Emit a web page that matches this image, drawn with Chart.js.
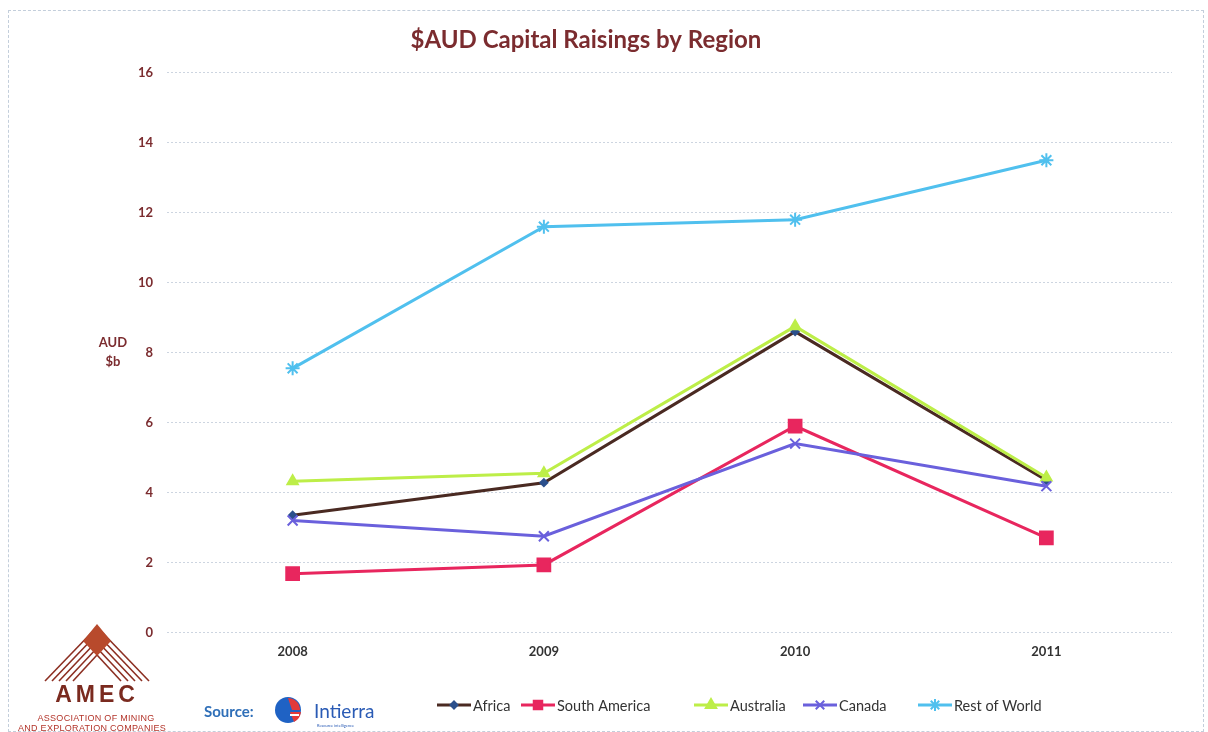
<!DOCTYPE html>
<html lang="en">
<head>
<meta charset="UTF-8">
<title>$AUD Capital Raisings by Region</title>
<script src="https://cdn.jsdelivr.net/npm/chart.js"></script>
<style>
    body {
        margin: 0;
        background: #fff;
        font-family: Lato, "Open Sans", sans-serif;
    }
    .wrap {
        position: relative;
        width: 1208px;
        height: 732px;
        overflow: hidden;
    }
    .frame {
        position: absolute;
        left: 8px;
        top: 10px;
        width: 1196px;
        height: 722px;
        border: 1px dashed #c3cedb;
        box-sizing: border-box;
    }
    #chart {
        position: absolute;
        left: 0;
        top: 0;
    }
    .ylabel {
        position: absolute;
        left: 88px;
        top: 333px;
        width: 50px;
        text-align: center;
        font-weight: bold;
        font-size: 13px;
        line-height: 19px;
        color: #7b2c2f;
    }
    .amec {
        position: absolute;
        left: 0;
        top: 615px;
    }
    .source {
        position: absolute;
        left: 204px;
        top: 702px;
        font-weight: bold;
        font-size: 15px;
        color: #2f6fb8;
    }
    .intierra {
        position: absolute;
        left: 272px;
        top: 694px;
    }
</style>
</head>
<body>
<div class="wrap">
    <div class="frame"></div>
    <canvas id="chart" width="1208" height="732"></canvas>
    <div class="ylabel">AUD<br>$b</div>
    <svg class="amec" width="200" height="117" viewBox="0 0 200 117">
        <g stroke="#8c2f22" stroke-width="1.6" fill="none">
            <line x1="97" y1="12" x2="45" y2="66"/>
            <line x1="97" y1="19" x2="52" y2="66"/>
            <line x1="97" y1="26" x2="59" y2="66"/>
            <line x1="97" y1="33" x2="66" y2="66"/>
            <line x1="97" y1="40" x2="73" y2="66"/>
            <line x1="97" y1="12" x2="149" y2="66"/>
            <line x1="97" y1="19" x2="142" y2="66"/>
            <line x1="97" y1="26" x2="135" y2="66"/>
            <line x1="97" y1="33" x2="128" y2="66"/>
            <line x1="97" y1="40" x2="121" y2="66"/>
        </g>
        <polygon points="97,9 111,26 97,41 83,26" fill="#b84a2c"/>
        <text x="97" y="87" text-anchor="middle" font-family="Liberation Sans, sans-serif" font-weight="bold" font-size="23" fill="#7a2a1f" letter-spacing="4">AMEC</text>
        <text x="96" y="106" text-anchor="middle" font-family="Liberation Sans, sans-serif" font-size="9" fill="#b3342a" letter-spacing="0.3">ASSOCIATION OF MINING</text>
        <text x="92" y="116" text-anchor="middle" font-family="Liberation Sans, sans-serif" font-size="9" fill="#b3342a" letter-spacing="0.3">AND EXPLORATION COMPANIES</text>
    </svg>
    <div class="source">Source:</div>
    <svg class="intierra" width="110" height="36" viewBox="0 0 110 36">
        <circle cx="16" cy="16" r="13" fill="#1f62c4"/>
        <path d="M16 4 A12 12 0 0 1 28 16 L20 16 Z" fill="#e23a3a"/>
        <path d="M18 18 L29 18 A13 13 0 0 1 22 28 Z" fill="#e23a3a"/>
        <rect x="18" y="20" width="9" height="2" fill="#fff"/>
        <text x="42" y="24" font-family="Lato, sans-serif" font-size="19" fill="#2a5bb5">Intierra</text>
        <text x="45" y="33" font-family="Lato, sans-serif" font-size="4" fill="#2a5bb5">Resource intelligence</text>
    </svg>
</div>

<script>
    const years = ['2008', '2009', '2010', '2011'];
    const africa = [3.35, 4.28, 8.6, 4.35];
    const southAmerica = [1.68, 1.93, 5.9, 2.7];
    const australia = [4.32, 4.55, 8.75, 4.43];
    const canada = [3.2, 2.75, 5.4, 4.18];
    const restOfWorld = [7.55, 11.6, 11.8, 13.5];
    const yTickStep = 2;

    // legend item start positions (layout only)
    const legendX = [437, 521, 694, 803, 918];
    const legendY = 705;

    function series(label, data, color, pointColor, style, radius, order) {
        return {
            label: label,
            data: data,
            borderColor: color,
            backgroundColor: pointColor,
            pointBackgroundColor: pointColor,
            pointBorderColor: pointColor,
            pointStyle: style,
            pointRadius: radius,
            pointHoverRadius: radius,
            pointBorderWidth: 2,
            borderWidth: 3,
            tension: 0,
            order: order
        };
    }

    const bottomLegend = {
        id: 'bottomLegend',
        afterDraw(chart) {
            const ctx = chart.ctx;
            ctx.save();
            ctx.font = '14.5px Lato';
            ctx.textBaseline = 'middle';
            chart.data.datasets.forEach((ds, i) => {
                const x = legendX[i];
                ctx.strokeStyle = ds.borderColor;
                ctx.lineWidth = 3;
                ctx.beginPath();
                ctx.moveTo(x, legendY);
                ctx.lineTo(x + 34, legendY);
                ctx.stroke();
                ctx.fillStyle = ds.pointBackgroundColor;
                ctx.strokeStyle = ds.pointBorderColor;
                ctx.lineWidth = 2;
                Chart.helpers.drawPoint(ctx, {
                    pointStyle: ds.pointStyle,
                    radius: Math.min(ds.pointRadius, 6),
                    rotation: 0,
                    borderWidth: 2
                }, x + 17, legendY);
                ctx.fillStyle = '#333';
                ctx.fillText(ds.label, x + 36, legendY + 1);
            });
            ctx.restore();
        }
    };

    new Chart(document.getElementById('chart'), {
        type: 'line',
        data: {
            labels: years,
            datasets: [
                series('Africa', africa, '#4a2a22', '#2b4f8c', 'rectRot', 3.5, 5),
                series('South America', southAmerica, '#e8265e', '#e8265e', 'rect', 9, 4),
                series('Australia', australia, '#bdee48', '#bdee48', 'triangle', 6, 3),
                series('Canada', canada, '#6a60dc', '#6a60dc', 'crossRot', 7, 2),
                series('Rest of World', restOfWorld, '#50c0ee', '#50c0ee', 'star', 7, 1)
            ]
        },
        options: {
            responsive: false,
            animation: false,
            layout: {
                padding: {left: 0, right: 36, top: 0, bottom: 60}
            },
            plugins: {
                legend: {display: false},
                tooltip: {enabled: false},
                title: {
                    display: true,
                    text: '$AUD Capital Raisings by Region',
                    color: '#7b2c2f',
                    font: {family: 'Lato', size: 24, weight: 'bold'},
                    padding: {top: 26, bottom: 18}
                }
            },
            scales: {
                x: {
                    offset: true,
                    grid: {display: false, drawTicks: false},
                    border: {display: false},
                    ticks: {
                        color: '#333',
                        font: {family: 'Lato', size: 13, weight: 'bold'},
                        padding: 12
                    }
                },
                y: {
                    min: 0,
                    max: 16,
                    afterFit(scale) {
                        scale.width = 167;
                    },
                    ticks: {
                        stepSize: yTickStep,
                        color: '#7b2c2f',
                        font: {family: 'Lato', size: 13, weight: 'bold'},
                        padding: 14
                    },
                    grid: {color: '#cdd5e0', drawTicks: false},
                    border: {display: false, dash: [2, 2]}
                }
            }
        },
        plugins: [bottomLegend]
    });
</script>
</body>
</html>
